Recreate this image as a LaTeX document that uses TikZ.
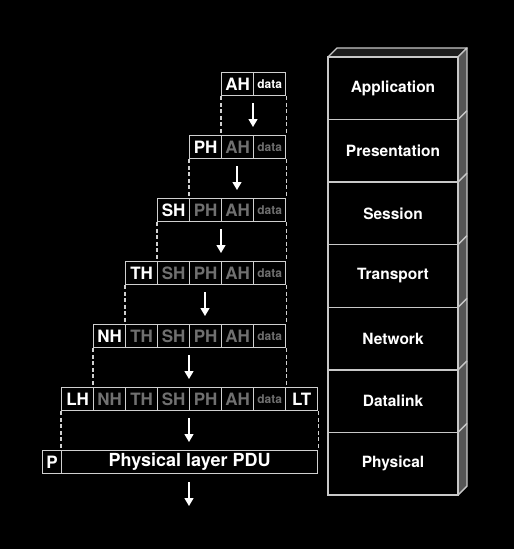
\documentclass[tikz,border=0pt]{standalone}
\usepackage{fontspec}
\setmainfont{TeX Gyre Heros}
\usetikzlibrary{arrows.meta}
\definecolor{cellline}{HTML}{D0D0D0}
\definecolor{oldtext}{HTML}{707070}
\definecolor{stackline}{HTML}{C8C8C8}
\definecolor{sideface}{HTML}{555555}
\definecolor{topface}{HTML}{1C1C1C}
\begin{document}
\begin{tikzpicture}[x=1pt,y=-1pt,
  cell/.style={draw=cellline, line width=1.3pt, minimum width=32pt, minimum height=23pt,
    inner sep=0pt, font=\bfseries\fontsize{17}{17}\selectfont, text=white, anchor=north west},
  old/.style={text=oldtext},
  datac/.style={font=\bfseries\fontsize{12}{12}\selectfont},
  dashline/.style={draw=cellline, line width=1.3pt, dash pattern=on 4pt off 2.5pt},
  flow/.style={draw=white, line width=1.3pt, -{Triangle[length=8pt,width=9pt]}},
  layer/.style={draw=stackline, line width=1.4pt, minimum width=130pt, minimum height=62.57pt,
    inner sep=0pt, font=\bfseries\fontsize{15.5}{15.5}\selectfont, text=white},
  face/.style={draw=stackline, line width=1.4pt, line join=round}]
\useasboundingbox (0,0) rectangle (514,549);
\fill[black] (0,0) rectangle (514,549);

% ---- right stack ----
\def\hh{62.57}
\filldraw[face, fill=topface] (328,57) -- (337,48) -- (467,48) -- (458,57) -- cycle;
\filldraw[face, fill=sideface] (458,57) -- (467,48) -- (467,486) -- (458,495) -- cycle;
\foreach \i in {1,...,6} {
  \draw[face] (458,57+\i*\hh) -- (467,48+\i*\hh);
}
\node[layer] (app) at (393,57+0.5*\hh) {Application};
\node[layer] (pre) at (393,57+1.5*\hh) {Presentation};
\node[layer] (ses) at (393,57+2.5*\hh) {Session};
\node[layer] (tra) at (393,57+3.5*\hh) {Transport};
\node[layer] (net) at (393,57+4.5*\hh) {Network};
\node[layer] (dat) at (393,57+5.5*\hh) {Datalink};
\node[layer] (phy) at (393,57+6.5*\hh) {Physical};

% ---- row 1 ----
\node[cell] (ah1) at (221,72) {AH};
\node[cell,datac] (d1) at (253,72) {data};
% ---- row 2 ----
\node[cell] (ph2) at (189,135) {PH};
\node[cell,old] (ah2) at (221,135) {AH};
\node[cell,old,datac] (d2) at (253,135) {data};
% ---- row 3 ----
\node[cell] (sh3) at (157,198) {SH};
\node[cell,old] (ph3) at (189,198) {PH};
\node[cell,old] (ah3) at (221,198) {AH};
\node[cell,old,datac] (d3) at (253,198) {data};
% ---- row 4 ----
\node[cell] (th4) at (125,261) {TH};
\node[cell,old] (sh4) at (157,261) {SH};
\node[cell,old] (ph4) at (189,261) {PH};
\node[cell,old] (ah4) at (221,261) {AH};
\node[cell,old,datac] (d4) at (253,261) {data};
% ---- row 5 ----
\node[cell] (nh5) at (93,324) {NH};
\node[cell,old] (th5) at (125,324) {TH};
\node[cell,old] (sh5) at (157,324) {SH};
\node[cell,old] (ph5) at (189,324) {PH};
\node[cell,old] (ah5) at (221,324) {AH};
\node[cell,old,datac] (d5) at (253,324) {data};
% ---- row 6 ----
\node[cell] (lh6) at (61,387) {LH};
\node[cell,old] (nh6) at (93,387) {NH};
\node[cell,old] (th6) at (125,387) {TH};
\node[cell,old] (sh6) at (157,387) {SH};
\node[cell,old] (ph6) at (189,387) {PH};
\node[cell,old] (ah6) at (221,387) {AH};
\node[cell,old,datac] (d6) at (253,387) {data};
\node[cell] (lt6) at (285,387) {LT};
% ---- row 7 ----
\node[cell, minimum width=19pt] (p7) at (42,450) {P};
\node[cell, minimum width=256pt, font=\bfseries\fontsize{18}{18}\selectfont] (pdu7) at (61,450) {Physical layer PDU};

% ---- dashed guides ----
\draw[dashline] (ah1.south west) -- (ah2.north west);
\draw[dashline] (d1.south east) -- (d2.north east);
\draw[dashline] (ph2.south west) -- (ph3.north west);
\draw[dashline] (d2.south east) -- (d3.north east);
\draw[dashline] (sh3.south west) -- (sh4.north west);
\draw[dashline] (d3.south east) -- (d4.north east);
\draw[dashline] (th4.south west) -- (th5.north west);
\draw[dashline] (d4.south east) -- (d5.north east);
\draw[dashline] (nh5.south west) -- (nh6.north west);
\draw[dashline] (d5.south east) -- (d6.north east);
\draw[dashline] (lh6.south west) -- (pdu7.north west);
\draw[dashline] (lt6.south east) -- (pdu7.north east);

% ---- arrows ----
\coordinate (a1s) at (253,103); \coordinate (a1e) at (253,127);
\coordinate (a2s) at (237,166); \coordinate (a2e) at (237,190);
\coordinate (a3s) at (221,229); \coordinate (a3e) at (221,253);
\coordinate (a4s) at (205,292); \coordinate (a4e) at (205,316);
\coordinate (a5s) at (189,355); \coordinate (a5e) at (189,379);
\coordinate (a6s) at (189,418); \coordinate (a6e) at (189,442);
\coordinate (a7s) at (189,482); \coordinate (a7e) at (189,506);
\foreach \k in {1,...,7} { \draw[flow] (a\k s) -- (a\k e); }
\end{tikzpicture}
\end{document}
